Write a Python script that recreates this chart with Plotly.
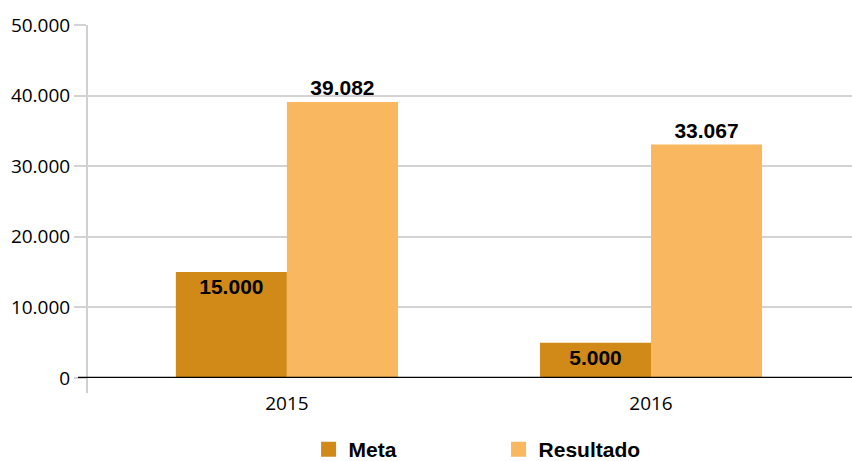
import plotly.graph_objects as go

years = ["2015", "2016"]
meta = [15000, 5000]
resultado = [39082, 33067]
meta_labels = ["15.000", "5.000"]
resultado_labels = ["39.082", "33.067"]
y_ticks = [0, 10000, 20000, 30000, 40000, 50000]
y_tick_text = ["0", "10.000", "20.000", "30.000", "40.000", "50.000"]

COLOR_META = "#D18A17"
COLOR_RES = "#F9B760"
LABEL_FONT = dict(family="Liberation Sans, Arial, sans-serif", size=21, color="black")
TICK_FONT = dict(family="Open Sans, sans-serif", size=19, color="black")

fig = go.Figure()
fig.add_trace(go.Bar(
    x=years, y=meta, name="Meta", marker=dict(color=COLOR_META, line=dict(width=0)),
    text=meta_labels, textposition="inside", insidetextanchor="end",
    textfont=LABEL_FONT, constraintext="none", showlegend=False,
    texttemplate="<b>%{text}</b>",
))
fig.add_trace(go.Bar(
    x=years, y=resultado, name="Resultado", marker=dict(color=COLOR_RES, line=dict(width=0)),
    text=resultado_labels, textposition="outside",
    textfont=LABEL_FONT, constraintext="none", showlegend=False, cliponaxis=False,
    texttemplate="<b>%{text}</b>",
))
# legend entries with square swatches
for name, col in [("Meta", COLOR_META), ("Resultado", COLOR_RES)]:
    fig.add_trace(go.Scatter(
        x=[None], y=[None], mode="markers", name=f"<b>{name}</b>",
        marker=dict(symbol="square", size=15, color=col),
    ))

# vertical axis line that runs a little below the baseline
fig.add_shape(type="line", xref="paper", yref="paper", x0=0, x1=0, y0=-15/353, y1=1,
              line=dict(color="#d0d0d0", width=2), layer="below")
# black baseline
fig.add_shape(type="line", xref="paper", yref="y", x0=-9/765, x1=1, y0=0, y1=0,
              line=dict(color="black", width=2.5))

fig.update_layout(
    width=852, height=461,
    margin=dict(l=87, r=0, t=25, b=83, autoexpand=False),
    paper_bgcolor="white", plot_bgcolor="white",
    barmode="group", bargap=0.39, bargroupgap=0,
    font=dict(family="Liberation Sans, Arial, sans-serif", size=18, color="black"),
    xaxis=dict(
        type="category", range=[-0.549, 1.552], showgrid=False, showline=False,
        ticks="", tickfont=TICK_FONT, fixedrange=True, ticklabelstandoff=12,
    ),
    yaxis=dict(
        range=[0, 50000], tickvals=y_ticks, ticktext=y_tick_text,
        showgrid=True, gridcolor="#d3d3d3", gridwidth=2,
        ticks="outside", ticklen=12, tickcolor="#d3d3d3", tickwidth=2,
        showline=False, zeroline=False, tickfont=TICK_FONT,
    ),
    legend=dict(
        orientation="h", x=0.538, xanchor="center",
        yref="container", y=0.025, yanchor="middle",
        font=dict(family="Liberation Sans, Arial, sans-serif", size=21, color="black"),
        entrywidth=145, itemclick=False, tracegroupgap=0,
    ),
)

fig.write_html("out.html")
